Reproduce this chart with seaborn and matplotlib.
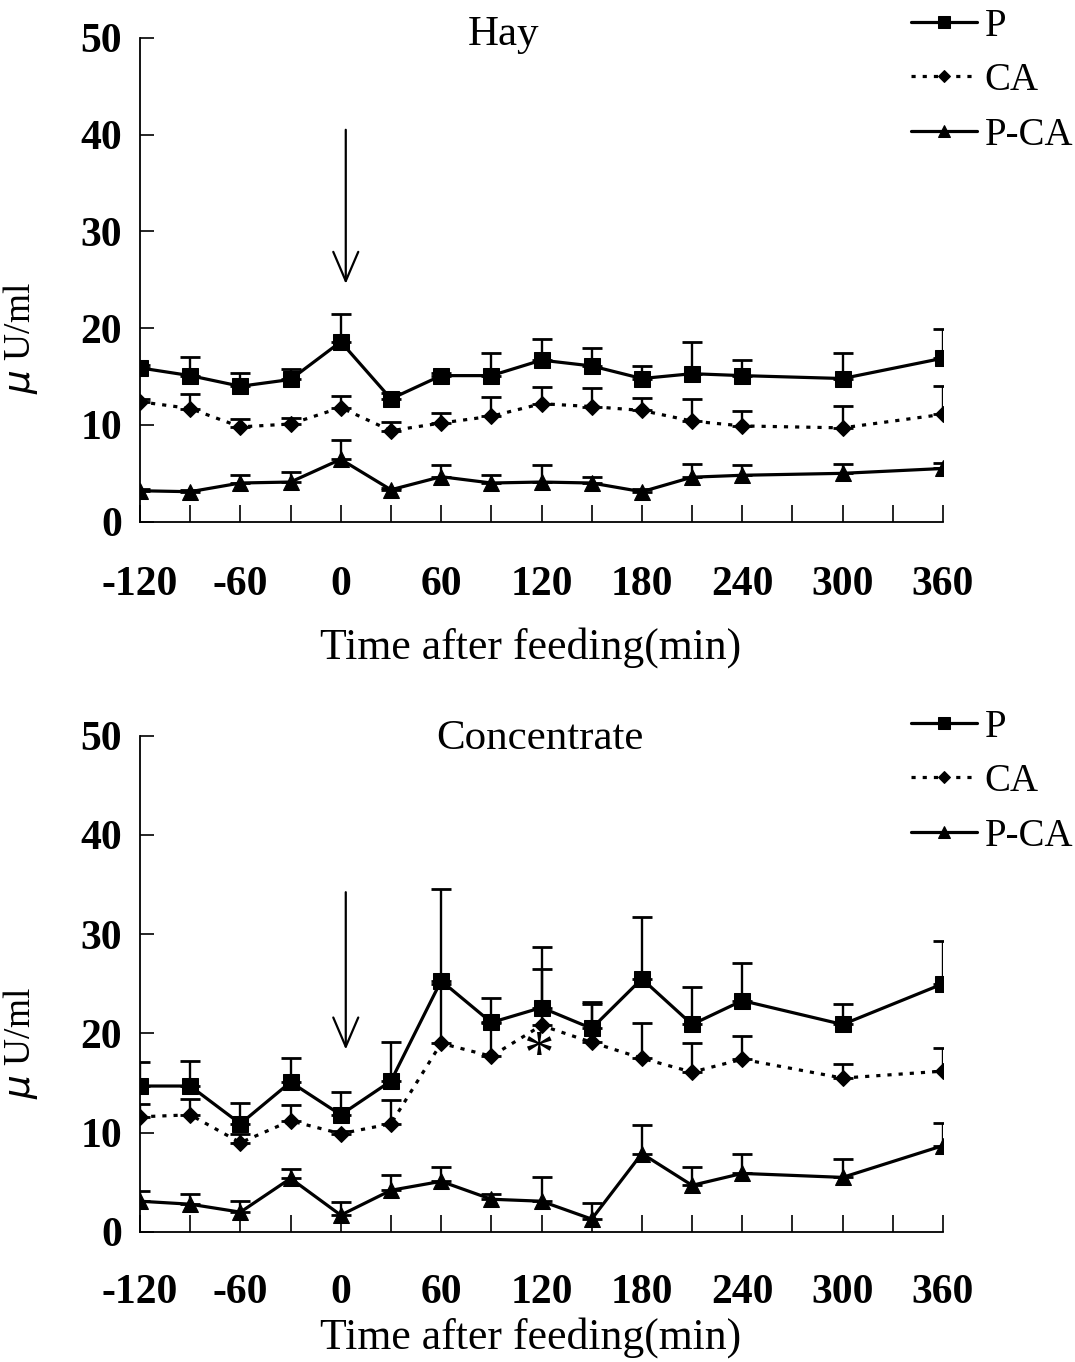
import numpy as np
import pandas as pd
import matplotlib
matplotlib.use("Agg")
import matplotlib.pyplot as plt
import seaborn as sns
from matplotlib.ticker import MultipleLocator

sns.set_theme(style="white")
plt.rcParams['font.family'] = ['Liberation Serif', 'DejaVu Serif']
for k in ['text.color', 'axes.labelcolor', 'xtick.color', 'ytick.color', 'axes.edgecolor']:
    plt.rcParams[k] = 'black'

time = [-120, -90, -60, -30, 0, 30, 60, 90, 120, 150, 180, 210, 240, 300, 360]

# Hay panel
hay_P = [15.9, 15.1, 14.0, 14.7, 18.6, 12.7, 15.1, 15.1, 16.7, 16.1, 14.8, 15.3, 15.1, 14.8, 16.9]
hay_P_se = [0.3, 1.9, 1.4, 1.1, 2.9, 0.6, 0.3, 2.3, 2.2, 1.9, 1.3, 3.3, 1.6, 2.6, 3.0]
hay_CA = [12.4, 11.7, 9.8, 10.1, 11.8, 9.4, 10.2, 10.9, 12.2, 11.9, 11.5, 10.4, 9.9, 9.7, 11.1]
hay_CA_se = [0.3, 1.5, 0.8, 0.6, 1.2, 0.9, 1.0, 2.0, 1.7, 1.9, 1.3, 2.3, 1.5, 2.3, 2.9]
hay_PCA = [3.2, 3.1, 4.0, 4.1, 6.45, 3.3, 4.65, 4.0, 4.1, 4.0, 3.1, 4.6, 4.8, 5.0, 5.5]
hay_PCA_se = [0.2, 0.2, 0.8, 1.0, 2.0, 0.2, 1.2, 0.8, 1.8, 0.65, 0.3, 1.4, 1.1, 1.0, 0.6]

# Concentrate panel
con_P = [14.7, 14.7, 10.9, 15.1, 11.8, 15.2, 25.3, 21.1, 22.6, 20.5, 25.5, 20.9, 23.3, 20.9, 25.0]
con_P_se = [2.4, 2.5, 2.1, 2.4, 2.3, 3.9, 9.2, 2.5, 6.1, 2.7, 6.2, 3.8, 3.8, 2.1, 4.3]
con_CA = [11.6, 11.8, 9.0, 11.2, 9.9, 10.9, 19.0, 17.7, 20.8, 19.1, 17.5, 16.1, 17.4, 15.5, 16.2]
con_CA_se = [1.3, 1.6, 0.9, 1.6, 0.3, 2.4, 6.0, 3.3, 5.7, 3.9, 3.5, 2.9, 2.3, 1.4, 2.3]
con_PCA = [3.1, 2.8, 2.0, 5.4, 1.7, 4.2, 5.1, 3.3, 3.1, 1.3, 7.9, 4.7, 5.9, 5.5, 8.7]
con_PCA_se = [1.0, 1.0, 1.1, 0.9, 1.3, 1.5, 1.4, 0.5, 2.4, 1.6, 2.9, 1.8, 2.0, 1.9, 2.3]

series_names = ["P", "CA", "P-CA"]
panel_titles = ["Hay", "Concentrate"]
title_x = [97, 119]
xticks = [-120, -60, 0, 60, 120, 180, 240, 300, 360]

fig = plt.figure(figsize=(10.75, 13.62), dpi=100)
ax1 = fig.add_axes([140/1075, 1 - 521.7/1362, 803/1075, 483.7/1362])
ax2 = fig.add_axes([140/1075, 1 - 1232/1362, 803/1075, 496.5/1362])

styles = {
    "P": dict(marker="s", linestyle="-", markersize=11),
    "CA": dict(marker="D", linestyle=(0, (1.3, 2.2)), markersize=8.5),
    "P-CA": dict(marker="^", linestyle="-", markersize=11),
}

panels = [
    (ax1, [(hay_P, hay_P_se), (hay_CA, hay_CA_se), (hay_PCA, hay_PCA_se)]),
    (ax2, [(con_P, con_P_se), (con_CA, con_CA_se), (con_PCA, con_PCA_se)]),
]

for pi, (ax, data) in enumerate(panels):
    for name, (vals, se) in zip(series_names, data):
        st = styles[name]
        ax.errorbar(time, vals, yerr=[np.zeros(len(se)), se], fmt='none',
                    ecolor='black', elinewidth=1.7, capsize=7, capthick=2.0, zorder=2)
        sns.lineplot(x=time, y=vals, ax=ax, color='black', linewidth=2.3,
                     marker=st["marker"], markersize=st["markersize"],
                     markeredgecolor='black', markerfacecolor='black',
                     linestyle=st["linestyle"], label=name, zorder=3)
    ax.set_xlim(-120, 360)
    ax.set_ylim(0, 50)
    ax.set_xticks(xticks)
    ax.set_xticklabels([str(t) for t in xticks])
    ax.xaxis.set_minor_locator(MultipleLocator(30))
    ax.set_yticks([0, 10, 20, 30, 40, 50])
    for s in ["top", "right"]:
        ax.spines[s].set_visible(False)
    for s in ["left", "bottom"]:
        ax.spines[s].set_color('black')
        ax.spines[s].set_linewidth(1.3)
    ax.tick_params(axis='y', direction='in', length=10, width=1.2, pad=13,
                   labelsize=30, left=True)
    ax.tick_params(axis='x', which='both', direction='in', length=12, width=1.2,
                   bottom=True, labelsize=30)
    ax.tick_params(axis='x', which='major', pad=32 if pi == 0 else 30)
    for lab in ax.get_xticklabels() + ax.get_yticklabels():
        lab.set_fontweight('bold')
    ax.set_ylabel(r"$\mu$ U/ml", fontsize=27)
    ax.yaxis.set_label_coords(-0.124, 0.38)
    ax.set_xlabel("Time after feeding(min)", fontsize=31.5)
    ax.xaxis.set_label_coords(0.486, -0.218 if pi == 0 else -0.172)
    ax.text(title_x[pi], 50.3 if pi == 0 else 49.7, panel_titles[pi],
            ha='center', va='center', fontsize=31)
    ax.legend(loc='upper left',
              bbox_to_anchor=(895/1075, (1362 - (-8 if pi == 0 else 693)) / 1362),
              bbox_transform=fig.transFigure, frameon=False, fontsize=28,
              handlelength=1.7, handletextpad=0.2, labelspacing=0.45,
              borderaxespad=0, markerscale=0.75)

ax1.annotate("", xy=(3, 24.3), xytext=(3, 40.8),
             arrowprops=dict(arrowstyle='->,head_length=1.05,head_width=0.45',
                             mutation_scale=20, color='black', lw=1.6))
ax2.annotate("", xy=(3, 18.1), xytext=(3, 34.5),
             arrowprops=dict(arrowstyle='->,head_length=1.05,head_width=0.45',
                             mutation_scale=20, color='black', lw=1.6))
ax2.text(118, 17.6, "*", fontsize=44, ha='center', va='center', color='black')

fig.savefig("out.png", dpi=100)
